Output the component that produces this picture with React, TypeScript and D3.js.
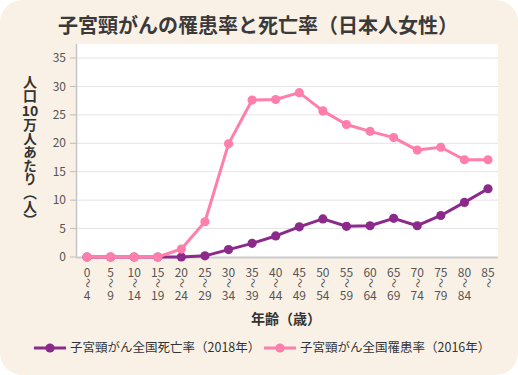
import React from "react";
import * as d3 from "d3";

const ageStarts = ["0","5","10","15","20","25","30","35","40","45","50","55","60","65","70","75","80","85"];
const ageEnds = ["4","9","14","19","24","29","34","39","44","49","54","59","64","69","74","79","84",""];
const incidence2016 = [0,0,0,0,1.4,6.2,19.9,27.6,27.7,28.9,25.7,23.3,22.1,21.0,18.8,19.3,17.1,17.1];
const mortality2018 = [0,0,0,0,0,0.2,1.3,2.4,3.7,5.3,6.7,5.4,5.5,6.8,5.5,7.3,9.6,12.0];
const yTicks = [0,5,10,15,20,25,30,35];
const yLabelParts = ["人口", "10", "万人あたり（人）"];

const W = 518, H = 375;
const PINK = "#ff7eac";
const PURPLE = "#8c2a8c";
const FONT = "'Noto Sans CJK JP', 'Noto Sans', sans-serif";

export default function App() {
  const x = d3.scalePoint<string>().domain(ageStarts).range([87, 488]);
  const y = d3.scaleLinear().domain([0, 35]).range([257, 58]);
  const line = d3.line<number>().x((_, i) => x(ageStarts[i])!).y((d) => y(d));

  const vStyle: React.CSSProperties = { writingMode: "vertical-rl" as any };

  return (
    <div style={{ position: "absolute", left: 0, top: 0 }}>
      <svg width={W} height={H} style={{ display: "block" }}>
        <rect x={0} y={0} width={W} height={H} fill="#ffffff" />
        <rect x={0} y={0} width={W} height={H} rx={22} fill="#faf1e6" />
        <text x={258} y={33} textAnchor="middle" fontFamily={FONT} fontWeight={700} fontSize={20} fill="#3a3a3a">
          子宮頸がんの罹患率と死亡率（日本人女性）
        </text>
        <rect x={77} y={44} width={421} height={213} fill="#ffffff" />
        {yTicks.map((t) => (
          <g key={t}>
            {t > 0 && <line x1={77} x2={498} y1={y(t)} y2={y(t)} stroke="#e4e4e4" strokeWidth={1} />}
            <line x1={70} x2={76} y1={y(t)} y2={y(t)} stroke="#bdbdbd" strokeWidth={1} />
            <text x={66} y={y(t)} dy="0.35em" textAnchor="end" fontFamily={FONT} fontSize={12} fill="#555">{t}</text>
          </g>
        ))}
        <line x1={76.5} x2={76.5} y1={44} y2={258} stroke="#c4c4c4" strokeWidth={1.5} />
        <line x1={76} x2={498} y1={257.5} y2={257.5} stroke="#cccccc" strokeWidth={2} />
        <g fontFamily={FONT} fontWeight={700} fontSize={14} fill="#333">
          <text x={30} y={75} style={vStyle}>{yLabelParts[0]}</text>
          <text x={30} y={115.5} textAnchor="middle">{yLabelParts[1]}</text>
          <text x={30} y={118} fontSize={13.6} style={vStyle}>{yLabelParts[2]}</text>
        </g>
        {ageStarts.map((a, i) => (
          <g key={a} fontFamily={FONT} fontSize={12} fill="#555" textAnchor="middle">
            <text x={x(a)} y={277}>{a}</text>
            <text x={x(a)} y={283} dy="0.35em" fontSize={10} transform={`rotate(90 ${x(a)} 283)`}>〜</text>
            {ageEnds[i] && <text x={x(a)} y={300}>{ageEnds[i]}</text>}
          </g>
        ))}
        <text x={286} y={324} textAnchor="middle" fontFamily={FONT} fontWeight={700} fontSize={14} fill="#333">年齢（歳）</text>

        <path d={line(mortality2018)!} fill="none" stroke={PURPLE} strokeWidth={3} strokeLinejoin="round" />
        {mortality2018.map((v, i) => (
          <circle key={i} cx={x(ageStarts[i])} cy={y(v)} r={4.6} fill={PURPLE} />
        ))}
        <path d={line(incidence2016)!} fill="none" stroke={PINK} strokeWidth={3} strokeLinejoin="round" />
        {incidence2016.map((v, i) => (
          <circle key={i} cx={x(ageStarts[i])} cy={y(v)} r={4.6} fill={PINK} />
        ))}

        <g fontFamily={FONT} fontSize={12.5} fill="#333">
          <line x1={34} x2={66} y1={348} y2={348} stroke={PURPLE} strokeWidth={3} />
          <circle cx={50} cy={348} r={4.6} fill={PURPLE} />
          <text x={70} y={348} dy="0.35em">子宮頸がん全国死亡率（2018年）</text>
          <line x1={264} x2={296} y1={348} y2={348} stroke={PINK} strokeWidth={3} />
          <circle cx={280} cy={348} r={4.6} fill={PINK} />
          <text x={300} y={348} dy="0.35em">子宮頸がん全国罹患率（2016年）</text>
        </g>
      </svg>
    </div>
  );
}
